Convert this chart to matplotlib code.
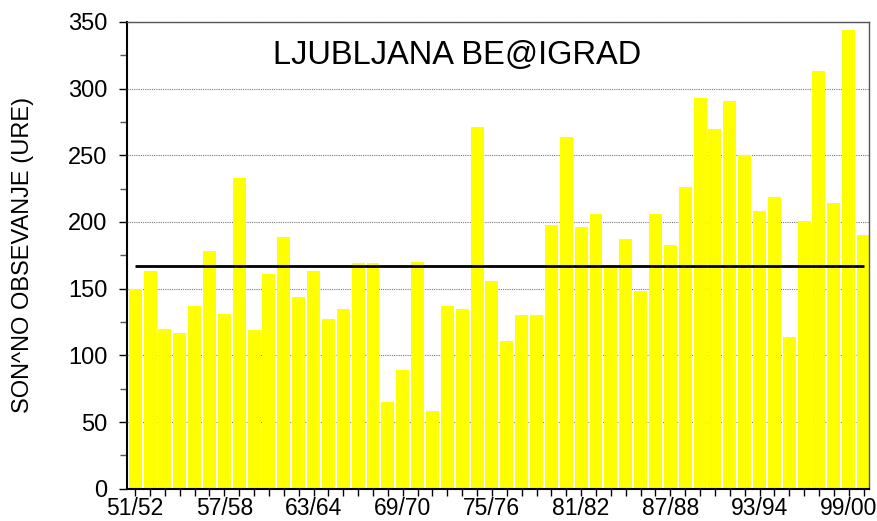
import matplotlib
matplotlib.use("Agg")
import matplotlib.pyplot as plt
from matplotlib.ticker import MultipleLocator

plt.rcParams['font.family'] = ['Liberation Sans', 'DejaVu Sans']

# seasons 51/52 ... 00/01
seasons = [f"{y % 100:02d}/{(y + 1) % 100:02d}" for y in range(1951, 2001)]
hours = [150, 163, 120, 117, 137, 178, 131, 233, 119, 161,
         189, 144, 163, 127, 135, 169, 169, 65, 89, 170,
         58, 137, 135, 271, 156, 111, 130, 130, 198, 264,
         196, 206, 166, 187, 148, 206, 183, 226, 293, 270,
         291, 250, 208, 219, 114, 201, 313, 214, 344, 190]
mean_hours = 167
labelled = ["51/52", "57/58", "63/64", "69/70", "75/76",
            "81/82", "87/88", "93/94", "99/00"]

fig = plt.figure(figsize=(8.78, 5.21), dpi=100)
ax = fig.add_axes([127 / 878, 1 - 488.7 / 521, (869.5 - 127) / 878, (488.7 - 21.9) / 521])

x = list(range(len(hours)))
ax.bar(x, hours, width=0.87, color='#ffff00', zorder=2)
ax.hlines(mean_hours, 0, len(hours) - 1, color='black', lw=2, zorder=3)

ax.set_ylim(0, 350)
ax.set_xlim(-0.55, len(hours) - 0.6)
ax.yaxis.set_major_locator(MultipleLocator(50))
ax.yaxis.set_minor_locator(MultipleLocator(25))
ax.grid(axis='y', which='major', color='#777777', ls=(0, (1, 1)), lw=0.8, zorder=1)

ax.set_xticks(x)
ax.set_xticklabels([s if s in labelled else "" for s in seasons])
ax.tick_params(axis='x', direction='out', length=5, width=1, labelsize=16.5, pad=1)
ax.tick_params(axis='y', which='major', direction='out', length=6, width=1, labelsize=17, pad=8)
ax.tick_params(axis='y', which='minor', direction='out', length=5, width=1, color='#555555')

for side in ['left', 'bottom']:
    ax.spines[side].set_color('black')
    ax.spines[side].set_linewidth(1.5)
for side in ['top', 'right']:
    ax.spines[side].set_color('#555555')
    ax.spines[side].set_linewidth(1)

ax.set_ylabel("SON^NO OBSEVANJE (URE)", fontsize=17)
ax.yaxis.set_label_coords(-0.125, 0.5)
ax.text(0.445, 0.928, "LJUBLJANA BE@IGRAD", transform=ax.transAxes,
        ha='center', va='center', fontsize=23.5)

fig.savefig("out.png", dpi=100)
